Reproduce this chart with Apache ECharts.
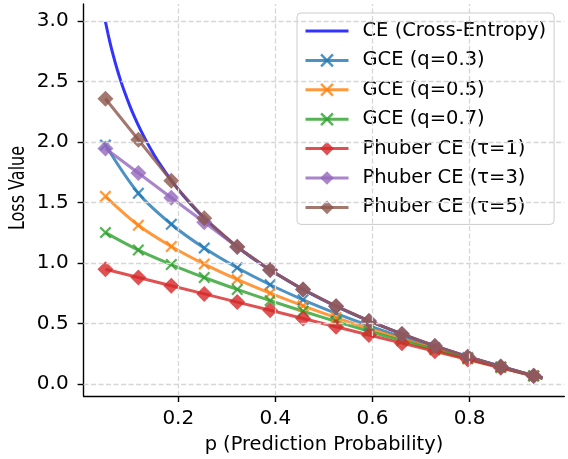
<!DOCTYPE html>
<html><head><meta charset="utf-8">
<script src="https://cdn.jsdelivr.net/npm/echarts@6/dist/echarts.min.js"></script>
<style>html,body{margin:0;padding:0;background:#fff}#c{width:568px;height:459px}</style>
</head><body><div id="c"></div>
<script>
// ---- data ----
const markerP = [0.05, 0.1178, 0.1857, 0.2535, 0.3214, 0.3892, 0.4570, 0.5249, 0.5927, 0.6606, 0.7284, 0.7962, 0.8641, 0.9319];
const endP = 0.95;
const ceP = [0.05, 0.055, 0.06, 0.065, 0.07, 0.075, 0.08, 0.09, 0.1, 0.11, 0.12, 0.135, 0.15, 0.165, 0.18, 0.2, 0.225, 0.25, 0.28, 0.31, 0.35, 0.4, 0.45, 0.5, 0.55, 0.6, 0.7, 0.8, 0.9, 0.95];
const ceLoss = [2.9957, 2.9004, 2.8134, 2.7334, 2.6593, 2.5903, 2.5257, 2.4079, 2.3026, 2.2073, 2.1203, 2.0025, 1.8971, 1.8018, 1.7148, 1.6094, 1.4917, 1.3863, 1.2730, 1.1712, 1.0498, 0.9163, 0.7985, 0.6931, 0.5978, 0.5108, 0.3567, 0.2231, 0.1054, 0.0513];
// values at the 14 marker positions, then at p = 0.95
const gce03 = [1.9764, 1.5784, 1.3219, 1.1249, 0.9621, 0.8219, 0.6978, 0.5861, 0.4841, 0.3899, 0.3023, 0.2203, 0.1429, 0.0698, 0.0509];
const gce05 = [1.5528, 1.3134, 1.1382, 0.9930, 0.8662, 0.7523, 0.6479, 0.5510, 0.4602, 0.3745, 0.2931, 0.2154, 0.1409, 0.0693, 0.0506];
const gce07 = [1.2531, 1.1088, 0.9890, 0.8819, 0.7832, 0.6906, 0.6028, 0.5188, 0.4380, 0.3599, 0.2842, 0.2106, 0.1389, 0.0688, 0.0504];
const phuber1 = [0.95, 0.8822, 0.8143, 0.7465, 0.6786, 0.6108, 0.5430, 0.4751, 0.4073, 0.3394, 0.2716, 0.2038, 0.1359, 0.0681, 0.05];
const phuber3 = [1.9486, 1.7451, 1.5416, 1.3381, 1.1345, 0.9437, 0.7830, 0.6446, 0.5230, 0.4147, 0.3169, 0.2279, 0.1461, 0.0705, 0.0513];
const phuber5 = [2.3594, 2.0202, 1.6810, 1.3723, 1.1352, 0.9437, 0.7830, 0.6446, 0.5230, 0.4147, 0.3169, 0.2279, 0.1461, 0.0705, 0.0513];
const phuber3Kink = [0.3333, 1.0986];
const phuber5Kink = [0.2, 1.6094];
const xTicks = [0.2, 0.4, 0.6, 0.8];
const yTicks = [0.0, 0.5, 1.0, 1.5, 2.0, 2.5, 3.0];
const names = ['CE (Cross-Entropy)', 'GCE (q=0.3)', 'GCE (q=0.5)', 'GCE (q=0.7)', 'Phuber CE (τ=1)', 'Phuber CE (τ=3)', 'Phuber CE (τ=5)'];
const xTitle = 'p (Prediction Probability)';
const yTitle = 'Loss Value';

// ---- chart ----
const FONT = 'DejaVu Sans';
const X_SYMBOL = 'path://M0,1.3L1.3,0L5,3.7L8.7,0L10,1.3L6.3,5L10,8.7L8.7,10L5,6.3L1.3,10L0,8.7L3.7,5Z';
const LW = 3;

function markerSeries(name, color, values, symbol, size, kink, smooth) {
  const pts = markerP.concat([endP]);
  let data = pts.map((x, i) => i < markerP.length ? [x, values[i]] : {value: [x, values[i]], symbol: 'none'});
  if (kink) {
    data.push({value: kink, symbol: 'none'});
    data.sort((a, b) => (Array.isArray(a) ? a[0] : a.value[0]) - (Array.isArray(b) ? b[0] : b.value[0]));
  }
  return {
    type: 'line', name: name, data: data, symbol: symbol, symbolSize: size,
    showSymbol: true, showAllSymbol: true, smooth: smooth || false, z: 3,
    lineStyle: {color: color, width: LW, opacity: 0.8},
    itemStyle: {color: color, opacity: 0.8},
    emphasis: {disabled: true}
  };
}

const gridMarks = xTicks.map(v => ({xAxis: v})).concat(yTicks.map(v => ({yAxis: v})));

const option = {
  animation: false,
  backgroundColor: '#ffffff',
  grid: {left: 83.6, right: 3.7, top: 3.9, bottom: 61.2, containLabel: false},
  xAxis: {
    type: 'value', min: 0.005, max: 0.995,
    axisLine: {show: true, onZero: false, lineStyle: {color: '#000', width: 1.4}},
    axisTick: {show: true, length: 6, customValues: xTicks, lineStyle: {color: '#000', width: 1.4}},
    axisLabel: {customValues: xTicks, formatter: v => v.toFixed(1), fontSize: 20, fontFamily: FONT, color: '#000', margin: 13},
    splitLine: {show: false},
    name: xTitle, nameLocation: 'middle', nameGap: 39,
    nameTextStyle: {fontSize: 19.4, fontFamily: FONT, color: '#000'}
  },
  yAxis: {
    type: 'value', min: -0.0973, max: 3.143,
    axisLine: {show: true, onZero: false, lineStyle: {color: '#000', width: 1.4}},
    axisTick: {show: true, length: 6, customValues: yTicks, lineStyle: {color: '#000', width: 1.4}},
    axisLabel: {customValues: yTicks, formatter: v => v.toFixed(1), fontSize: 20, fontFamily: FONT, color: '#000', margin: 15},
    splitLine: {show: false}
  },
  graphic: [{
    type: 'text', x: 19, y: 188, rotation: Math.PI / 2, scaleY: 1.3, silent: true,
    style: {text: yTitle, fontSize: 16, fontFamily: FONT, fill: '#000', align: 'center', verticalAlign: 'middle'}
  }],
  legend: {
    orient: 'vertical', left: 297, top: 13, padding: [8, 8, 7, 7],
    itemWidth: 43, itemHeight: 17, itemGap: 9.4,
    lineStyle: {width: LW},
    textStyle: {fontSize: 19.5, lineHeight: 19.5, fontFamily: FONT, color: '#000', padding: [0, 0, 0, 9]},
    backgroundColor: 'rgba(255,255,255,0.85)', borderColor: '#cccccc', borderWidth: 1, borderRadius: 4,
    data: [{name: names[0], icon: 'path://M0,0L43,0L43,3L0,3Z'}].concat(names.slice(1))
  },
  series: [
    {
      type: 'scatter', name: '_grid', data: [[0.5, 1]], symbolSize: 0, z: 1, silent: true,
      markLine: {
        silent: true, symbol: 'none', label: {show: false}, animation: false,
        lineStyle: {color: '#d6d6d6', width: 1.3, type: [5, 2.5]},
        emphasis: {disabled: true},
        data: gridMarks
      }
    },
    {
      type: 'line', name: names[0], data: ceP.map((x, i) => [x, ceLoss[i]]),
      symbol: 'none', smooth: 0.33, z: 3,
      lineStyle: {color: '#0000ff', width: LW, opacity: 0.8},
      itemStyle: {color: '#0000ff', opacity: 0.8},
      emphasis: {disabled: true}
    },
    markerSeries(names[1], '#1f77b4', gce03, X_SYMBOL, 12, null, 0.33),
    markerSeries(names[2], '#ff7f0e', gce05, X_SYMBOL, 12, null, 0.33),
    markerSeries(names[3], '#2ca02c', gce07, X_SYMBOL, 12, null, 0.33),
    markerSeries(names[4], '#d62728', phuber1, 'diamond', 16, null, false),
    markerSeries(names[5], '#9467bd', phuber3, 'diamond', 16, phuber3Kink, false),
    markerSeries(names[6], '#8c564b', phuber5, 'diamond', 16, phuber5Kink, false)
  ]
};

const chart = echarts.init(document.getElementById('c'), null, {renderer: 'canvas'});
chart.setOption(option);
</script></body></html>
